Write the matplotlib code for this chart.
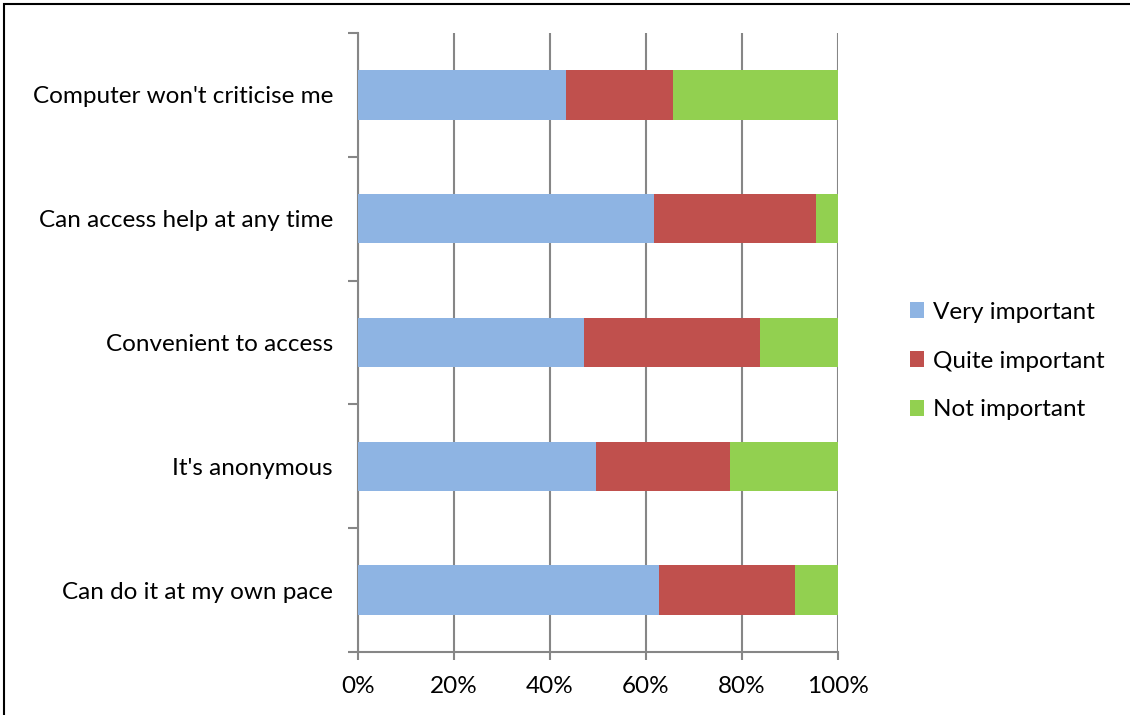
import matplotlib
matplotlib.use("Agg")
import matplotlib.pyplot as plt
from matplotlib.patches import Rectangle
import numpy as np

categories = ["Can do it at my own pace", "It's anonymous", "Convenient to access",
              "Can access help at any time", "Computer won't criticise me"]
very = [62.8, 49.6, 47.1, 61.7, 43.4]
quite = [28.2, 27.9, 36.7, 33.8, 22.2]
not_imp = [9.0, 22.5, 16.2, 4.5, 34.4]
series_names = ["Very important", "Quite important", "Not important"]
colors = ["#8EB4E3", "#C0504D", "#92D050"]
xticks = [0, 20, 40, 60, 80, 100]
xticklabels = ["0%", "20%", "40%", "60%", "80%", "100%"]

plt.rcParams['font.family'] = ['Lato', 'DejaVu Sans']
FS = 17.5

fig = plt.figure(figsize=(11.3, 7.15), dpi=100)
W, H = 1130, 715
ax = fig.add_axes([358 / W, 1 - 652 / H, 480 / W, (652 - 33) / H])

y = np.arange(len(categories))
left = np.zeros(len(categories))
for vals, name, c in zip([very, quite, not_imp], series_names, colors):
    ax.barh(y, vals, left=left, height=0.4, color=c, label=name, zorder=3)
    left = left + np.array(vals)

ax.set_xlim(0, 100)
ax.set_ylim(-0.5, len(categories) - 0.5)
ax.set_xticks(xticks)
ax.set_xticklabels(xticklabels, fontsize=FS)
ax.set_yticks(y)
ax.set_yticklabels(categories, fontsize=FS)
ax.tick_params(axis='y', length=0, pad=18)
ax.tick_params(axis='x', length=6, width=1.5, color='#868686', direction='out', pad=11)
ax.set_yticks(np.arange(-0.5, len(categories), 1.0), minor=True)
ax.tick_params(axis='y', which='minor', length=7, width=1.5, color='#868686')
ax.grid(axis='x', color='#868686', linewidth=1.5, zorder=0)
for s in ['top', 'right']:
    ax.spines[s].set_visible(False)
for s in ['left', 'bottom']:
    ax.spines[s].set_color('#868686')
    ax.spines[s].set_linewidth(1.5)

leg = ax.legend(loc='center left', bbox_to_anchor=(888 / W, 1 - 361 / H), bbox_transform=fig.transFigure,
                frameon=False, fontsize=FS, handlelength=0.6, handleheight=0.6,
                handletextpad=0.35, labelspacing=1.15)

fig.patches.append(Rectangle((4 / W, -0.01), 1.2, 1 - 4 / H + 0.01, transform=fig.transFigure,
                             fill=False, edgecolor='black', linewidth=1.5))

fig.savefig("out.png", dpi=100)
